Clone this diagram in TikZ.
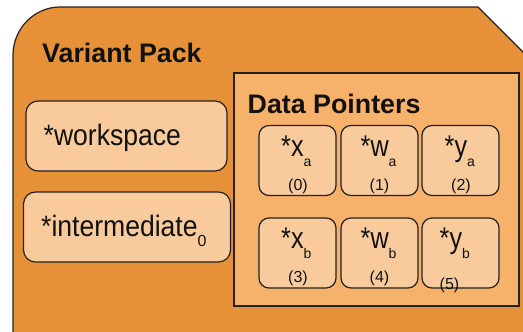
\documentclass[tikz,border=0pt]{standalone}
\usepackage{graphicx}
\usepackage{fontspec}
\setmainfont{Liberation Sans}
\definecolor{packorange}{HTML}{E69138}
\definecolor{dporange}{HTML}{F6B26B}
\definecolor{ptrfill}{HTML}{F9CB9C}
\definecolor{edge}{HTML}{222222}
\definecolor{ink}{HTML}{111111}
\tikzset{
  outline/.style={draw=edge, line width=1.2pt},
  pack/.style={outline, fill=packorange},
  dpbox/.style={outline, fill=dporange, rectangle, inner sep=0pt},
  bigptr/.style={outline, fill=ptrfill, rectangle, rounded corners=12pt,
    minimum height=70pt, inner sep=0pt},
  smallptr/.style={outline, fill=ptrfill, rectangle, rounded corners=10pt,
    minimum width=77pt, minimum height=70pt, inner sep=0pt},
  title/.style={anchor=base west, inner sep=0pt, text=ink,
    font=\fontsize{26.8}{30}\selectfont\bfseries},
  bigtxt/.style={anchor=base west, inner sep=0pt, text=ink,
    font=\fontsize{29.5}{32}\selectfont},
  ptrtxt/.style={anchor=base west, inner sep=0pt, text=ink,
    font=\fontsize{30}{32}\selectfont},
  idxtxt/.style={anchor=base, inner sep=0pt, text=ink,
    font=\fontsize{16}{18}\selectfont},
}
% horizontally condensed text
\newcommand{\condensed}[2]{\scalebox{#1}[1]{#2}}
% subscript set well below the baseline
\newcommand{\lowsub}[2]{\raisebox{-10pt}{\fontsize{#1}{#1}\selectfont #2}}
\begin{document}
\begin{tikzpicture}[x=1pt, y=-1pt]
\useasboundingbox (0,0) rectangle (523,332);
\begin{scope}
\clip (0,0) rectangle (523,332);
% outer pack shape: rounded top-left, chamfered top-right
\draw[pack] (13,345) -- (13,55) .. controls (13,29) and (34,7) .. (60,7)
  -- (478,7) -- (545,74) -- (545,345) -- cycle;
\end{scope}

\node[title] (vp) at (42,63) {Variant Pack};

% workspace and intermediate pointers
\node[bigptr, minimum width=201pt] (ws) at (126.5,136) {};
\node[bigtxt] (wst) at (43.5,145.5) {\condensed{0.9}{*workspace}};
\node[bigptr, minimum width=207pt] (im) at (127,227) {};
\node[bigtxt] (imt) at (41,236.7) {\condensed{0.9}{*intermediate}\lowsub{16}{0}};

% data pointers panel
\node[dpbox, minimum width=285pt, minimum height=233pt] (dp) at (376.5,189.5) {};
\node[title] (dpt) at (247.5,113) {Data Pointers};

% first row
\node[smallptr] (xa) at (297.5,160.5) {};
\node[smallptr] (wa) at (379.5,160.5) {};
\node[smallptr] (ya) at (460.5,160.5) {};
\node[ptrtxt] (xat) at (281,156.7) {\condensed{0.84}{*x}\lowsub{14}{a}};
\node[ptrtxt] (wat) at (360.5,156.7) {\condensed{0.84}{*w}\lowsub{14}{a}};
\node[ptrtxt] (yat) at (444.5,156.7) {\condensed{0.84}{*y}\lowsub{14}{a}};
\node[idxtxt] (xai) at (298,190) {(0)};
\node[idxtxt] (wai) at (379.5,190) {(1)};
\node[idxtxt] (yai) at (461,190) {(2)};

% second row
\node[smallptr] (xb) at (297.5,253) {};
\node[smallptr] (wb) at (379.5,253) {};
\node[smallptr] (yb) at (460.5,253) {};
\node[ptrtxt] (xbt) at (281,248.7) {\condensed{0.84}{*x}\lowsub{14}{b}};
\node[ptrtxt] (wbt) at (360.5,248.7) {\condensed{0.84}{*w}\lowsub{14}{b}};
\node[ptrtxt] (ybt) at (439.5,248.7) {\condensed{0.84}{*y}\lowsub{14}{b}};
\node[idxtxt] (xbi) at (298,282) {(3)};
\node[idxtxt] (wbi) at (379.5,282) {(4)};
\node[idxtxt] (ybi) at (449.5,289) {(5)};
\end{tikzpicture}
\end{document}
